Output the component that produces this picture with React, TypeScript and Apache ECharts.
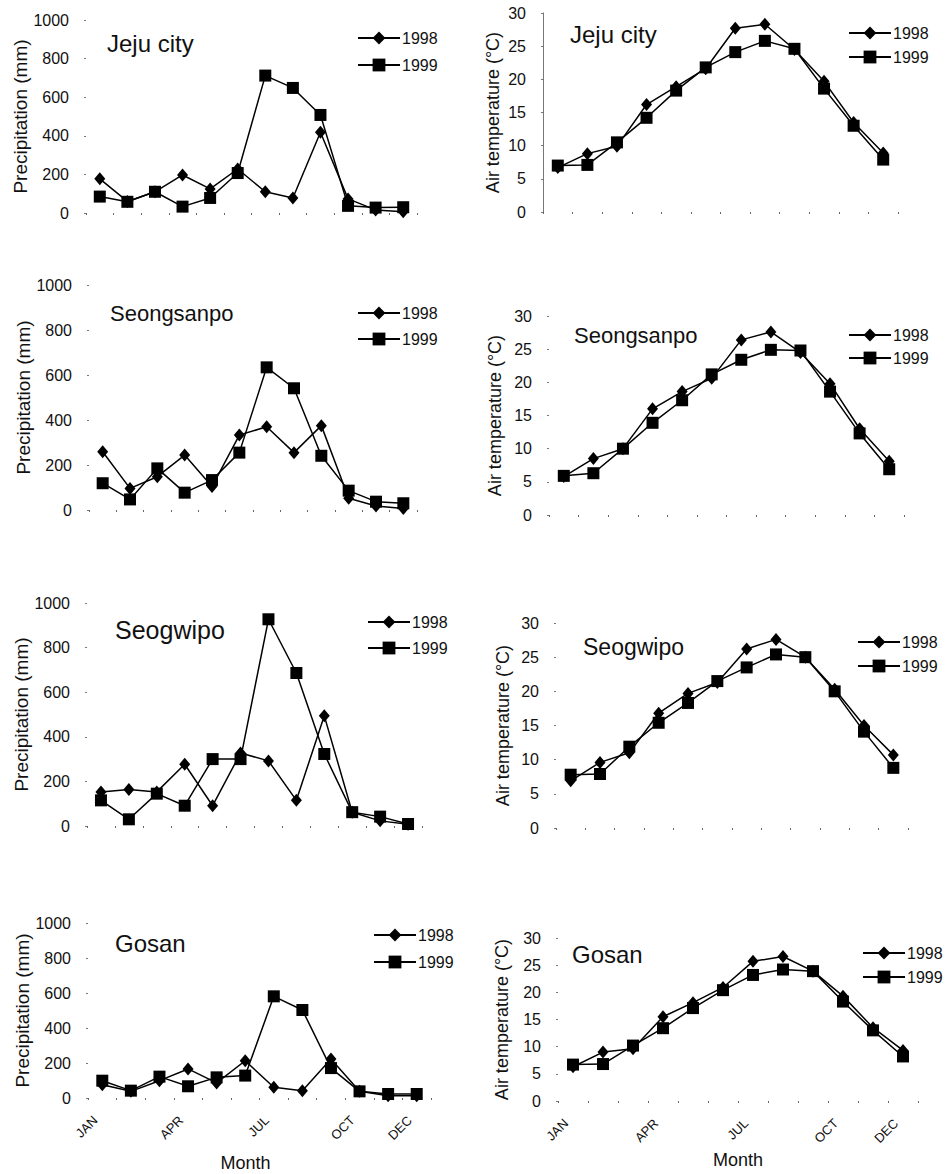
import React, { useEffect, useRef } from "react";
import * as echarts from "echarts";

const months = ["JAN", "FEB", "MAR", "APR", "MAY", "JUN", "JUL", "AUG", "SEP", "OCT", "NOV", "DEC"];
const shownMonthIdx = [0, 3, 6, 9, 11];
const years = ["1998", "1999"];
const precipTicks = { min: 0, max: 1000, interval: 200 };
const tempTicks = { min: 0, max: 30, interval: 5 };

const precipJeju1998 = [177, 60, 110, 197, 125, 228, 110, 78, 418, 73, 16, 7];
const precipJeju1999 = [85, 58, 110, 33, 78, 207, 712, 648, 508, 37, 28, 30];
const tempJeju1998 = [6.7, 8.8, 9.9, 16.2, 18.9, 21.6, 27.7, 28.3, 24.5, 19.7, 13.5, 8.9];
const tempJeju1999 = [7.0, 7.1, 10.5, 14.2, 18.3, 21.8, 24.1, 25.8, 24.6, 18.6, 13.0, 7.9];

const precipSeongsanpo1998 = [259, 96, 148, 244, 104, 333, 370, 255, 375, 52, 18, 7];
const precipSeongsanpo1999 = [119, 47, 185, 77, 133, 255, 634, 541, 241, 86, 37, 30];
const tempSeongsanpo1998 = [5.8, 8.5, 10.0, 16.0, 18.6, 20.6, 26.4, 27.6, 24.5, 19.8, 13.0, 8.1];
const tempSeongsanpo1999 = [5.9, 6.3, 10.0, 13.9, 17.3, 21.2, 23.4, 24.9, 24.8, 18.6, 12.3, 6.9];

const precipSeogwipo1998 = [152, 164, 153, 277, 91, 327, 292, 115, 494, 62, 23, 8];
const precipSeogwipo1999 = [115, 30, 145, 91, 300, 300, 927, 686, 323, 62, 42, 9];
const tempSeogwipo1998 = [6.9, 9.6, 11.0, 16.8, 19.7, 21.3, 26.2, 27.6, 25.0, 20.3, 15.0, 10.7];
const tempSeogwipo1999 = [7.8, 7.9, 11.9, 15.4, 18.3, 21.5, 23.5, 25.4, 25.0, 20.0, 14.1, 8.8];

const precipGosan1998 = [76, 38, 99, 166, 86, 213, 61, 42, 223, 38, 13, 13];
const precipGosan1999 = [99, 42, 122, 67, 118, 128, 581, 503, 171, 38, 23, 23];
const tempGosan1998 = [6.3, 9.0, 9.6, 15.5, 18.1, 20.9, 25.7, 26.6, 23.9, 19.3, 13.5, 9.3];
const tempGosan1999 = [6.7, 6.8, 10.2, 13.4, 17.1, 20.4, 23.2, 24.2, 23.9, 18.3, 13.0, 8.2];

const precipName = "Precipitation (mm)";
const tempName = "Air temperature (°C)";
const monthName = "Month";

const FONT = '"Liberation Sans", Arial, Helvetica, sans-serif';
const INK = "#111";

const panels = [
  { station: "Jeju city", kind: "p", d98: precipJeju1998, d99: precipJeju1999,
    grid: { left: 86, top: 20, width: 331, height: 193 }, nameGap: 50,
    leg: { left: 357, top: 30, gap: 11 }, title: { left: 107, cy: 43, size: 24 }, bottom: false },
  { station: "Jeju city", kind: "t", d98: tempJeju1998, d99: tempJeju1999,
    grid: { left: 543, top: 13, width: 355, height: 199 }, nameGap: 41,
    leg: { left: 848, top: 25, gap: 8 }, title: { left: 570, cy: 34, size: 24 }, bottom: false, axisLine: true },
  { station: "Seongsanpo", kind: "p", d98: precipSeongsanpo1998, d99: precipSeongsanpo1999,
    grid: { left: 89, top: 285, width: 328, height: 225 }, nameGap: 51,
    leg: { left: 357, top: 305, gap: 10 }, title: { left: 110, cy: 313, size: 22 }, bottom: false },
  { station: "Seongsanpo", kind: "t", d98: tempSeongsanpo1998, d99: tempSeongsanpo1999,
    grid: { left: 549, top: 316, width: 355, height: 199 }, nameGap: 45,
    leg: { left: 848, top: 327, gap: 7 }, title: { left: 574, cy: 335, size: 22 }, bottom: false },
  { station: "Seogwipo", kind: "p", d98: precipSeogwipo1998, d99: precipSeogwipo1999,
    grid: { left: 87, top: 603, width: 335, height: 223 }, nameGap: 45,
    leg: { left: 367, top: 614, gap: 10 }, title: { left: 115, cy: 630, size: 25 }, bottom: false },
  { station: "Seogwipo", kind: "t", d98: tempSeogwipo1998, d99: tempSeogwipo1999,
    grid: { left: 556, top: 623, width: 352, height: 205 }, nameGap: 44,
    leg: { left: 857, top: 634, gap: 8 }, title: { left: 583, cy: 647, size: 23 }, bottom: false },
  { station: "Gosan", kind: "p", d98: precipGosan1998, d99: precipGosan1999,
    grid: { left: 88, top: 923, width: 343, height: 175 }, nameGap: 50,
    leg: { left: 373, top: 927, gap: 11 }, title: { left: 115, cy: 943, size: 24 }, bottom: true, monthGap: 56, monthShift: 28 },
  { station: "Gosan", kind: "t", d98: tempGosan1998, d99: tempGosan1999,
    grid: { left: 558, top: 938, width: 360, height: 163 }, nameGap: 47,
    leg: { left: 862, top: 945, gap: 8 }, title: { left: 572, cy: 954, size: 24 }, bottom: true, monthGap: 50, monthShift: 0 },
];

function buildOption() {
  const grid: any[] = [];
  const xAxis: any[] = [];
  const yAxis: any[] = [];
  const series: any[] = [];
  const legend: any[] = [];
  const title: any[] = [];

  panels.forEach((p, i) => {
    grid.push({ ...p.grid, containLabel: false });
    xAxis.push({
      type: "category",
      gridIndex: i,
      data: months,
      boundaryGap: true,
      axisLine: { show: false },
      axisTick: { show: true, interval: 0, length: 2, lineStyle: { color: "#666", width: 1 } },
      axisLabel: p.bottom
        ? {
            show: true,
            interval: (idx: number) => shownMonthIdx.indexOf(idx) >= 0,
            rotate: 45,
            margin: 13,
            padding: [0, 10, 0, 0],
            fontSize: 13,
            color: INK,
            fontFamily: FONT,
          }
        : { show: false },
      name: p.bottom ? monthName : "",
      nameLocation: "middle",
      nameGap: p.bottom ? p.monthGap : 0,
      nameTextStyle: {
        fontSize: 18,
        color: INK,
        fontFamily: FONT,
        padding: [0, p.monthShift || 0, 0, 0],
      },
      splitLine: { show: false },
    });
    const ticks = p.kind === "p" ? precipTicks : tempTicks;
    yAxis.push({
      type: "value",
      gridIndex: i,
      min: ticks.min,
      max: ticks.max,
      interval: ticks.interval,
      axisLine: { show: !!p.axisLine, lineStyle: { color: "#777", width: 1 } },
      axisTick: { show: true, length: 2, lineStyle: { color: "#777" } },
      axisLabel: {
        fontSize: 16,
        color: INK,
        fontFamily: FONT,
        margin: 17,
        formatter: (v: number) => String(v),
      },
      splitLine: { show: false },
      name: p.kind === "p" ? precipName : tempName,
      nameLocation: "middle",
      nameGap: p.nameGap,
      nameTextStyle: { fontSize: p.kind === "p" ? 19 : 18, color: INK, fontFamily: FONT },
    });
    series.push({
      type: "line",
      name: years[0],
      xAxisIndex: i,
      yAxisIndex: i,
      data: p.d98,
      symbol: "diamond",
      symbolSize: [11, 13],
      lineStyle: { color: "#000", width: 1.5 },
      itemStyle: { color: "#000" },
      z: 2,
    });
    series.push({
      type: "line",
      name: years[1],
      xAxisIndex: i,
      yAxisIndex: i,
      data: p.d99,
      symbol: "rect",
      symbolSize: 12,
      lineStyle: { color: "#000", width: 1.5 },
      itemStyle: { color: "#000" },
      z: 3,
    });
    legend.push({
      orient: "vertical",
      left: p.leg.left,
      top: p.leg.top,
      itemGap: p.leg.gap,
      itemWidth: 42,
      itemHeight: 16,
      padding: 0,
      selectedMode: false,
      data: years,
      textStyle: { fontSize: 16, color: INK, fontFamily: FONT, padding: [0, 0, 0, -3] },
    });
    title.push({
      text: p.station,
      left: p.title.left,
      top: p.title.cy - p.title.size / 2,
      padding: 0,
      textStyle: { fontSize: p.title.size, fontWeight: "normal", color: INK, fontFamily: FONT },
    });
  });

  return { animation: false, backgroundColor: "#fff", grid, xAxis, yAxis, series, legend, title };
}

export default function App() {
  const ref = useRef<HTMLDivElement>(null);
  useEffect(() => {
    if (!ref.current) return;
    const chart = echarts.init(ref.current, undefined, { renderer: "svg" });
    chart.setOption(buildOption() as any);
    return () => chart.dispose();
  }, []);
  return (
    <div
      ref={ref}
      style={{ position: "absolute", left: 0, top: 0, width: 945, height: 1174, background: "#fff" }}
    />
  );
}
